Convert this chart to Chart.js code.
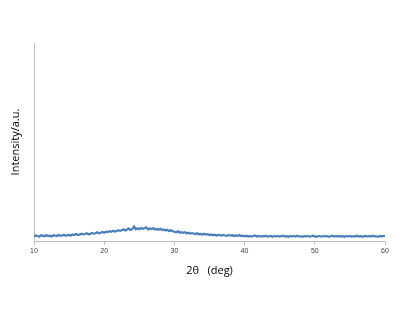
<!DOCTYPE html>
<html>
<head>
<meta charset="utf-8">
<script src="https://cdn.jsdelivr.net/npm/chart.js@4/dist/chart.umd.min.js"></script>
<style>
  html, body { margin: 0; padding: 0; background: #fff; }
  #wrap { width: 400px; height: 320px; }
</style>
</head>
<body>
<div id="wrap"><canvas id="myChart"></canvas></div>
<script>
// 2-theta sample positions (deg)
const twoTheta = [
  10, 10.25, 10.5, 10.75, 11, 11.25, 11.5, 11.75, 12, 12.25, 12.5, 12.75, 13, 13.25, 13.5, 13.75, 14, 14.25, 14.5, 14.75,
  15, 15.25, 15.5, 15.75, 16, 16.25, 16.5, 16.75, 17, 17.25, 17.5, 17.75, 18, 18.25, 18.5, 18.75, 19, 19.25, 19.5, 19.75,
  20, 20.25, 20.5, 20.75, 21, 21.25, 21.5, 21.75, 22, 22.25, 22.5, 22.75, 23, 23.25, 23.5, 23.75, 24, 24.25, 24.5, 24.75,
  25, 25.25, 25.5, 25.75, 26, 26.25, 26.5, 26.75, 27, 27.25, 27.5, 27.75, 28, 28.25, 28.5, 28.75, 29, 29.25, 29.5, 29.75,
  30, 30.25, 30.5, 30.75, 31, 31.25, 31.5, 31.75, 32, 32.25, 32.5, 32.75, 33, 33.25, 33.5, 33.75, 34, 34.25, 34.5, 34.75,
  35, 35.25, 35.5, 35.75, 36, 36.25, 36.5, 36.75, 37, 37.25, 37.5, 37.75, 38, 38.25, 38.5, 38.75, 39, 39.25, 39.5, 39.75,
  40, 40.25, 40.5, 40.75, 41, 41.25, 41.5, 41.75, 42, 42.25, 42.5, 42.75, 43, 43.25, 43.5, 43.75, 44, 44.25, 44.5, 44.75,
  45, 45.25, 45.5, 45.75, 46, 46.25, 46.5, 46.75, 47, 47.25, 47.5, 47.75, 48, 48.25, 48.5, 48.75, 49, 49.25, 49.5, 49.75,
  50, 50.25, 50.5, 50.75, 51, 51.25, 51.5, 51.75, 52, 52.25, 52.5, 52.75, 53, 53.25, 53.5, 53.75, 54, 54.25, 54.5, 54.75,
  55, 55.25, 55.5, 55.75, 56, 56.25, 56.5, 56.75, 57, 57.25, 57.5, 57.75, 58, 58.25, 58.5, 58.75, 59, 59.25, 59.5, 59.75,
  60
];
// intensity (a.u.)
const intensity = [
  2.3, 2.8, 2.5, 2.2, 2.9, 2.6, 2.4, 3.0, 2.5, 2.7, 2.3, 2.9, 2.8, 2.5, 3.1, 2.6, 2.8, 3.2, 2.6, 2.9,
  3.1, 2.8, 3.3, 3.0, 3.5, 3.1, 3.2, 3.7, 3.3, 3.5, 3.9, 3.4, 3.6, 4.1, 3.7, 3.9, 4.4, 3.9, 4.2, 4.6,
  4.2, 4.7, 4.5, 4.9, 4.6, 5.2, 4.8, 5.0, 5.5, 5.1, 5.4, 5.9, 5.3, 5.8, 6.3, 5.6, 6.1, 7.3, 5.9, 6.4,
  6.0, 6.6, 6.1, 6.4, 6.9, 5.9, 6.3, 6.0, 6.5, 5.8, 6.1, 5.7, 6.2, 5.5, 5.8, 5.3, 5.7, 5.0, 5.4, 4.9,
  4.7, 4.4, 4.9, 4.2, 4.5, 4.1, 4.4, 3.9, 4.2, 3.7, 4.0, 3.8, 3.5, 3.9, 3.4, 3.6, 3.3, 3.7, 3.2, 3.4,
  3.0, 3.3, 2.9, 3.2, 2.8, 3.1, 3.0, 2.7, 3.1, 2.8, 2.6, 3.0, 2.7, 2.9, 2.5, 2.8, 2.6, 3.0, 2.5, 2.7,
  2.4, 2.7, 2.3, 2.6, 2.2, 2.5, 2.8, 2.3, 2.6, 2.2, 2.5, 2.3, 2.7, 2.2, 2.4, 2.6, 2.1, 2.5, 2.3, 2.6,
  2.2, 2.5, 2.7, 2.2, 2.4, 2.1, 2.6, 2.3, 2.5, 2.2, 2.7, 2.3, 2.4, 2.1, 2.6, 2.3, 2.5, 2.2, 2.4, 2.7,
  2.3, 2.1, 2.5, 2.4, 2.2, 2.6, 2.3, 2.5, 2.1, 2.4, 2.7, 2.2, 2.5, 2.3, 2.6, 2.2, 2.4, 2.1, 2.5, 2.3,
  2.6, 2.2, 2.4, 2.3, 2.7, 2.2, 2.5, 2.1, 2.4, 2.6, 2.3, 2.5, 2.2, 2.7, 2.3, 2.4, 2.1, 2.6, 2.3, 2.5,
  2.4
];
const xTicks = [10, 20, 30, 40, 50, 60];

const points = twoTheta.map((x, i) => ({ x: x, y: intensity[i] }));

new Chart("myChart", {
  type: "line",
  data: {
    datasets: [{
      data: points,
      borderColor: "#4a7ebb",
      backgroundColor: "#4a7ebb",
      borderWidth: 2.2,
      pointRadius: 0,
      fill: false,
      tension: 0
    }]
  },
  options: {
    responsive: true,
    maintainAspectRatio: false,
    animation: false,
    layout: { padding: { left: 0, top: 43, right: 15, bottom: 39 } },
    plugins: { legend: { display: false }, tooltip: { enabled: false } },
    scales: {
      x: {
        type: "linear",
        min: 10,
        max: 60,
        afterBuildTicks: (scale) => { scale.ticks = xTicks.map(v => ({ value: v })); },
        afterFit: (scale) => { scale.height = 40; },
        grid: { display: true, drawOnChartArea: false, tickLength: 4, color: "#bfbfbf" },
        border: { color: "#bfbfbf", width: 1 },
        ticks: { color: "#404040", font: { family: "Liberation Sans", size: 7 }, padding: 2, maxRotation: 0 },
        title: {
          display: true,
          text: "2θ   (deg)",
          color: "#000",
          font: { family: "Open Sans", size: 11 },
          padding: { top: 4, bottom: 4 }
        }
      },
      y: {
        min: 0,
        max: 100,
        afterFit: (scale) => { scale.width = 34; },
        grid: { display: false },
        border: { color: "#bfbfbf", width: 1 },
        ticks: { display: false },
        title: {
          display: true,
          text: "Intensity/a.u.",
          color: "#000",
          font: { family: "Open Sans", size: 11 },
          padding: { top: 9, bottom: 0 }
        }
      }
    }
  }
});
</script>
</body>
</html>
